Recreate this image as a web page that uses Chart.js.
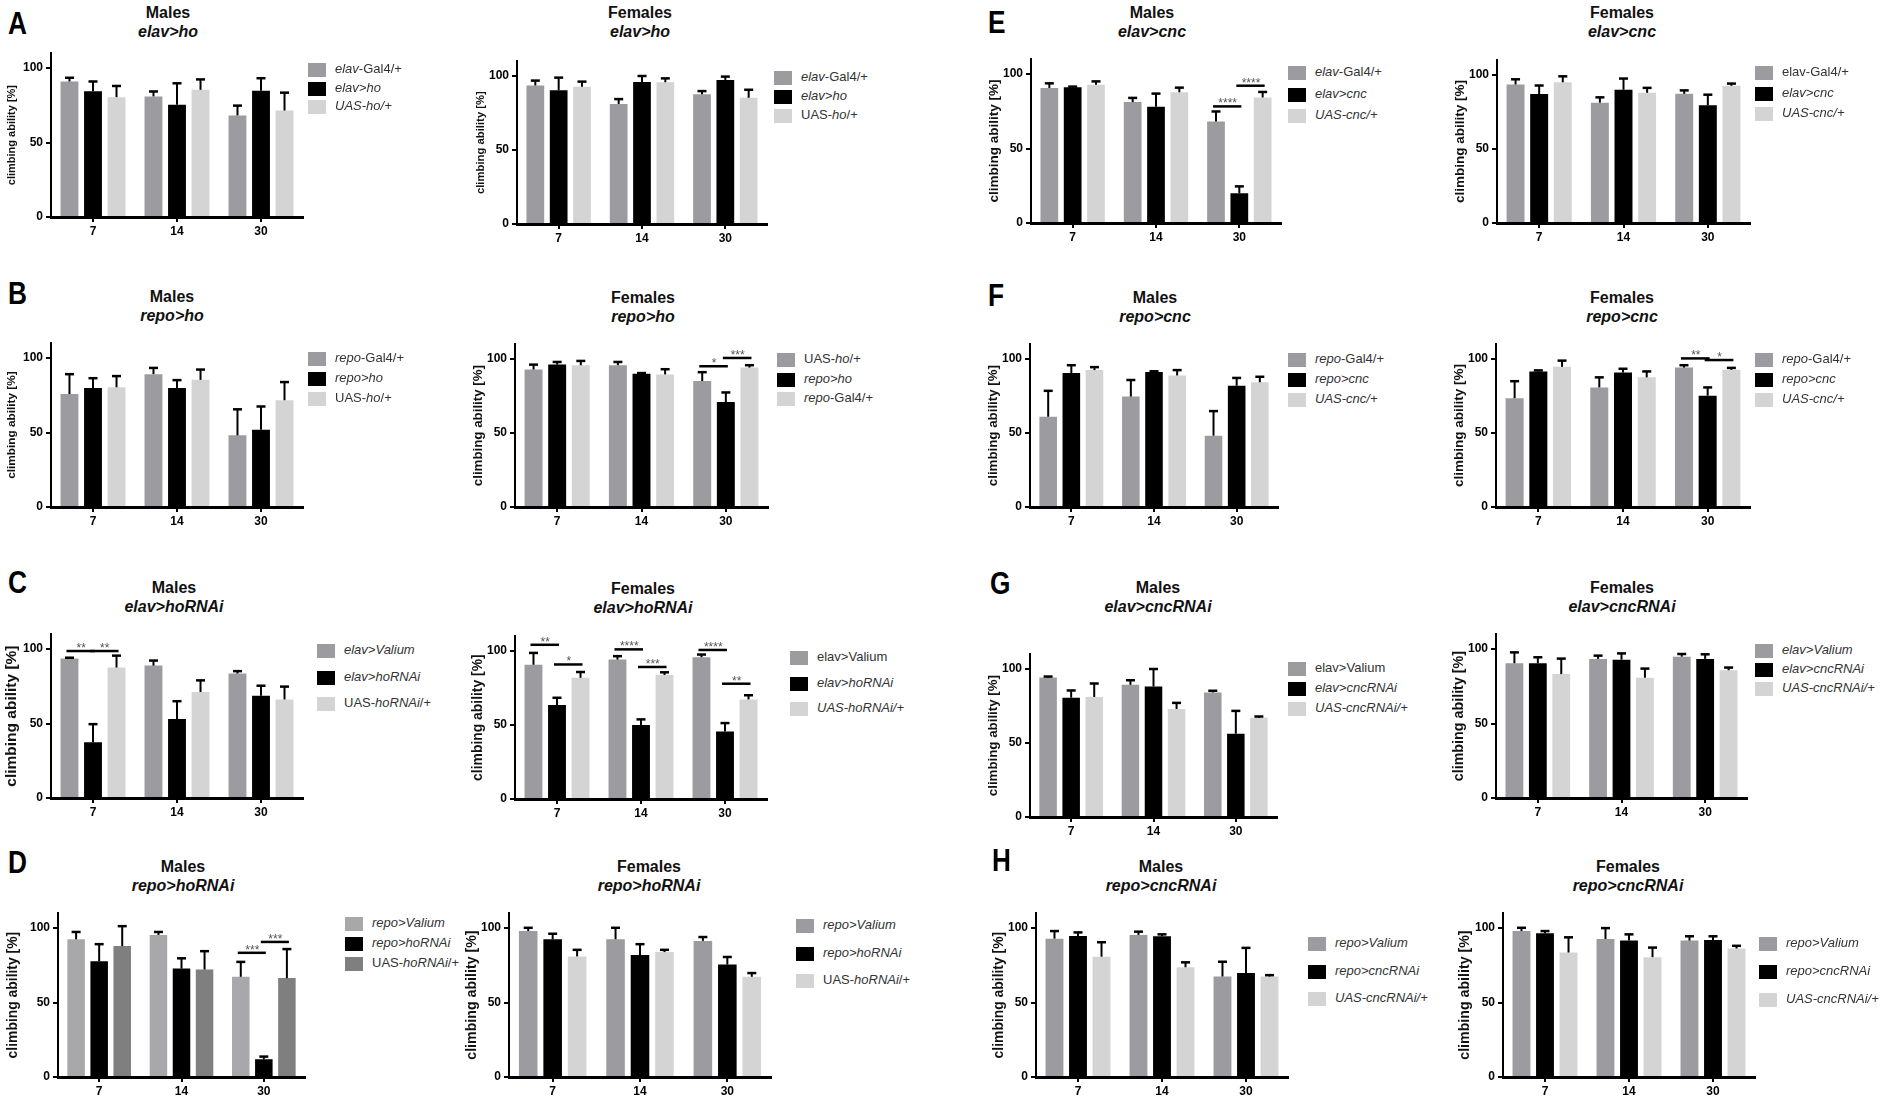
<!DOCTYPE html>
<html>
<head>
<meta charset="utf-8">
<script src="https://cdn.jsdelivr.net/npm/chart.js@4.4.1/dist/chart.umd.min.js"></script>
<style>
body { margin:0; background:#fff; width:1902px; height:1101px; position:relative; overflow:hidden; font-family:"Liberation Sans", Arial, sans-serif; }
.letter { position:absolute; font-weight:bold; font-size:32px; line-height:32px; transform:scaleX(0.82); transform-origin:left center; }
.ttl { position:absolute; width:240px; text-align:center; font-weight:bold; font-size:16px; line-height:19px; color:#111; }
.leg { position:absolute; font-size:13px; color:#333; white-space:nowrap; line-height:16px; }
.sw { display:inline-block; width:18px; height:14px; vertical-align:middle; margin-right:9px; }
canvas { position:absolute; }
</style>
</head>
<body>
<script>
const days = ['7', '14', '30'];

// mean climbing ability, one row per genotype, columns = days
const aMalesMean = [[91, 81, 68.2], [84.5, 75.3, 84.8], [80.5, 85.4, 71.5]];
const aMalesErr = [[2.5, 3.3, 6.6], [6.5, 14.5, 8.4], [7.5, 7, 12]];
const aMalesLabels = ['<i>elav</i>-Gal4/+', '<i>elav>ho</i>', '<i>UAS-ho/+</i>'];

const aFemalesMean = [[93.6, 81.1, 87.6], [90.4, 96, 97.3], [92.7, 95.8, 85.3]];
const aFemalesErr = [[3.3, 3.3, 2.2], [8.5, 4, 2.3], [3.5, 2.6, 5.4]];
const aFemalesLabels = ['<i>elav</i>-Gal4/+', '<i>elav>ho</i>', 'UAS-<i>ho</i>/+'];

const eMalesMean = [[90.7, 81.2, 68.1], [91.1, 78, 20], [92.9, 87.8, 84.3]];
const eMalesErr = [[3.1, 2.8, 6.8], [0.5, 8.9, 4.6], [2.2, 3.1, 3.7]];
const eMalesLabels = ['<i>elav</i>-Gal4/+', '<i>elav>cnc</i>', '<i>UAS-cnc/+</i>'];

const eFemalesMean = [[93.6, 81.3, 87.3], [87.1, 90, 79.6], [95.1, 88, 92.7]];
const eFemalesErr = [[3.5, 3.6, 2.3], [5.8, 7.6, 7.1], [4, 3.3, 1.5]];
const eFemalesLabels = ['elav-Gal4/+', '<i>elav>cnc</i>', '<i>UAS-cnc/+</i>'];

const bMalesMean = [[75.9, 89.2, 48.1], [79.9, 79.9, 51.9], [80.4, 85.4, 71.7]];
const bMalesErr = [[13.3, 4.2, 17.5], [6.6, 5.3, 15.6], [7.5, 6.9, 12.2]];
const bMalesLabels = ['<i>repo</i>-Gal4/+', '<i>repo>ho</i>', 'UAS-<i>ho</i>/+'];

const bFemalesMean = [[92.9, 95.8, 85.1], [96.2, 90, 70.9], [95.8, 89.6, 94.2]];
const bFemalesErr = [[3.3, 2.2, 6], [1.8, 0.5, 6.5], [2.9, 3.5, 1.6]];
const bFemalesLabels = ['UAS-<i>ho</i>/+', '<i>repo>ho</i>', '<i>repo</i>-Gal4/+'];

const fMalesMean = [[61, 74.6, 48.2], [90.5, 91.2, 81.9], [92.5, 88.9, 84.3]];
const fMalesErr = [[17.5, 11.2, 16.6], [5.3, 0.5, 5.3], [2, 3.6, 3.7]];
const fMalesLabels = ['<i>repo</i>-Gal4/+', '<i>repo>cnc</i>', '<i>UAS-cnc/+</i>'];

const fFemalesMean = [[73.5, 80.8, 94.2], [91.6, 90.9, 75.2], [94.7, 87.6, 92.7]];
const fFemalesErr = [[11.5, 6.8, 1.6], [0.7, 2.5, 5.6], [4.2, 4, 1.3]];
const fFemalesLabels = ['<i>repo</i>-Gal4/+', '<i>repo>cnc</i>', '<i>UAS-cnc/+</i>'];

const cMalesMean = [[93.6, 88.9, 83.6], [37.4, 53.1, 68.6], [87.6, 71.2, 66.2]];
const cMalesErr = [[0.6, 3.4, 1.6], [12.2, 11.9, 6.8], [8, 7.8, 8.6]];
const cMalesLabels = ['<i>elav>Valium</i>', '<i>elav>hoRNAi</i>', 'UAS-<i>hoRNAi</i>/+'];

const cFemalesMean = [[90.7, 94.2, 95.8], [63.5, 50, 45.6], [81.9, 83.8, 67.3]];
const cFemalesErr = [[8, 2.3, 1.8], [4.9, 3.8, 5.7], [3.9, 1.8, 2.8]];
const cFemalesLabels = ['elav>Valium', '<i>elav>hoRNAi</i>', '<i>UAS-hoRNAi/+</i>'];

const gMalesMean = [[94.2, 89.3, 84.2], [80.6, 88.2, 56.3], [81.1, 73, 67]];
const gMalesErr = [[0.7, 3.1, 1.1], [4.9, 11.8, 15.4], [9.1, 4.1, 0.9]];
const gMalesLabels = ['elav>Valium', '<i>elav>cncRNAi</i>', '<i>UAS-cncRNAi/+</i>'];

const gFemalesMean = [[90.5, 93.4, 94.9], [90.5, 92.9, 93.4], [83.2, 80.8, 85.8]];
const gFemalesErr = [[7.3, 2.2, 1.8], [4, 4.2, 3.1], [10.4, 6.1, 1.8]];
const gFemalesLabels = ['<i>elav>Valium</i>', '<i>elav>cncRNAi</i>', '<i>UAS-cncRNAi/+</i>'];

const dMalesMean = [[92.5, 95.4, 67.3], [77.7, 72.8, 11.9], [87.9, 72.2, 66.4]];
const dMalesErr = [[4.9, 2, 10], [11.5, 6.9, 1.8], [13.4, 12.3, 19.5]];
const dMalesLabels = ['<i>repo>Valium</i>', '<i>repo>hoRNAi</i>', 'UAS-<i>hoRNAi</i>/+'];

const dFemalesMean = [[98, 92.5, 91.4], [92.5, 81.9, 75.5], [81, 83.9, 67.3]];
const dFemalesErr = [[2.2, 7.7, 2.6], [3.7, 7.3, 5.1], [4.4, 1.5, 2.5]];
const dFemalesLabels = ['<i>repo>Valium</i>', '<i>repo>hoRNAi</i>', 'UAS-<i>hoRNAi</i>/+'];

const hMalesMean = [[92.9, 95.4, 67.5], [94.7, 94.5, 69.9], [80.8, 73.7, 67.5]];
const hMalesErr = [[5.1, 2.2, 9.9], [2.4, 1.3, 16.8], [9.7, 3.3, 0.9]];
const hMalesLabels = ['<i>repo>Valium</i>', '<i>repo>cncRNAi</i>', '<i>UAS-cncRNAi/+</i>'];

const hFemalesMean = [[98, 92.7, 91.6], [96.5, 91.6, 92], [83.6, 80.5, 86.3]];
const hFemalesErr = [[2.2, 7.3, 2.9], [1.5, 4.2, 2.5], [10.2, 6.4, 1.8]];
const hFemalesLabels = ['<i>repo>Valium</i>', '<i>repo>cncRNAi</i>', '<i>UAS-cncRNAi/+</i>'];

// significance bars: [day index, from genotype, to genotype, height, stars]
const eMalesSig = [[2, 0, 1, 78.3, '****'], [2, 1, 2, 92.2, '****']];
const bFemalesSig = [[2, 0, 1, 95.1, '*'], [2, 1, 2, 100.7, '***']];
const fFemalesSig = [[2, 0, 1, 100.4, '**'], [2, 1, 2, 99.3, '*']];
const cMalesSig = [[0, 0, 1, 98.7, '**'], [0, 1, 2, 98.7, '**']];
const cFemalesSig = [[0, 0, 1, 104.2, '**'], [0, 1, 2, 90.9, '*'], [1, 0, 1, 101.1, '****'], [1, 1, 2, 89.2, '***'], [2, 0, 1, 100.7, '****'], [2, 1, 2, 77.9, '**']];
const dMalesSig = [[2, 0, 1, 83.4, '***'], [2, 1, 2, 90.7, '***']];

const stdColors = ['#9c9ca0', '#000000', '#d4d4d4'];
const dMaleColors = ['#a8a8aa', '#000000', '#7f7f7f'];

Chart.defaults.font.family = '"Liberation Sans", Arial, sans-serif';

// box: y-axis x, x-axis end, y of 0, y of 100 ; title: centre x, top line y ; leg: swatch x, first y, step ; yl: label size, label offset
const panels = [
  {sex: 'Males', geno: 'elav>ho', mean: aMalesMean, err: aMalesErr, labels: aMalesLabels, sig: [], colors: stdColors, box: [51, 303, 217, 66], title: [168, 13], leg: [308, 69, 18.5], yl: [11, 39]},
  {sex: 'Females', geno: 'elav>ho', mean: aFemalesMean, err: aFemalesErr, labels: aFemalesLabels, sig: [], colors: stdColors, box: [517, 767, 224, 74], title: [640, 13], leg: [774, 77, 19], yl: [11.3, 36]},
  {sex: 'Males', geno: 'elav>cnc', mean: eMalesMean, err: eMalesErr, labels: eMalesLabels, sig: eMalesSig, colors: stdColors, box: [1031, 1281, 223, 72], title: [1152, 13], leg: [1288, 72, 21.5], yl: [13.5, 37]},
  {sex: 'Females', geno: 'elav>cnc', mean: eFemalesMean, err: eFemalesErr, labels: eFemalesLabels, sig: [], colors: stdColors, box: [1497, 1750, 223, 73], title: [1622, 13], leg: [1755, 72, 20.5], yl: [13.5, 37]},
  {sex: 'Males', geno: 'repo>ho', mean: bMalesMean, err: bMalesErr, labels: bMalesLabels, sig: [], colors: stdColors, box: [51, 303, 507, 356], title: [172, 297], leg: [308, 358, 20], yl: [11.8, 39]},
  {sex: 'Females', geno: 'repo>ho', mean: bFemalesMean, err: bFemalesErr, labels: bFemalesLabels, sig: bFemalesSig, colors: stdColors, box: [515, 768, 507, 357], title: [643, 298], leg: [777, 359, 19.5], yl: [13.3, 37]},
  {sex: 'Males', geno: 'repo>cnc', mean: fMalesMean, err: fMalesErr, labels: fMalesLabels, sig: [], colors: stdColors, box: [1030, 1278, 507, 357], title: [1155, 298], leg: [1288, 359, 20], yl: [13.3, 37]},
  {sex: 'Females', geno: 'repo>cnc', mean: fFemalesMean, err: fFemalesErr, labels: fFemalesLabels, sig: fFemalesSig, colors: stdColors, box: [1496, 1750, 507, 357], title: [1622, 298], leg: [1755, 359, 20], yl: [13.5, 37]},
  {sex: 'Males', geno: 'elav>hoRNAi', mean: cMalesMean, err: cMalesErr, labels: cMalesLabels, sig: cMalesSig, colors: stdColors, box: [51, 303, 798, 647], title: [174, 588], leg: [317, 650, 26.5], yl: [15.5, 39]},
  {sex: 'Females', geno: 'elav>hoRNAi', mean: cFemalesMean, err: cFemalesErr, labels: cFemalesLabels, sig: cFemalesSig, colors: stdColors, box: [515, 767, 799, 649], title: [643, 589], leg: [790, 657, 25.5], yl: [13.9, 37]},
  {sex: 'Males', geno: 'elav>cncRNAi', mean: gMalesMean, err: gMalesErr, labels: gMalesLabels, sig: [], colors: stdColors, box: [1030, 1277, 817, 667], title: [1158, 588], leg: [1288, 668, 20], yl: [13.3, 37]},
  {sex: 'Females', geno: 'elav>cncRNAi', mean: gFemalesMean, err: gFemalesErr, labels: gFemalesLabels, sig: [], colors: stdColors, box: [1496, 1747, 798, 647], title: [1622, 588], leg: [1755, 650, 19], yl: [14.3, 37]},
  {sex: 'Males', geno: 'repo>hoRNAi', mean: dMalesMean, err: dMalesErr, labels: dMalesLabels, sig: dMalesSig, colors: dMaleColors, box: [58, 305, 1077, 926], title: [183, 867], leg: [345, 923, 20], yl: [13.9, 45]},
  {sex: 'Females', geno: 'repo>hoRNAi', mean: dFemalesMean, err: dFemalesErr, labels: dFemalesLabels, sig: [], colors: stdColors, box: [509, 771, 1077, 926], title: [649, 867], leg: [796, 925, 27.5], yl: [14.2, 37]},
  {sex: 'Males', geno: 'repo>cncRNAi', mean: hMalesMean, err: hMalesErr, labels: hMalesLabels, sig: [], colors: stdColors, box: [1036, 1288, 1077, 926], title: [1161, 867], leg: [1308, 943, 27.5], yl: [13.9, 37]},
  {sex: 'Females', geno: 'repo>cncRNAi', mean: hFemalesMean, err: hFemalesErr, labels: hFemalesLabels, sig: [], colors: stdColors, box: [1503, 1755, 1077, 926], title: [1628, 867], leg: [1759, 943, 28], yl: [14.2, 38]}
];

const letters = [['A', 8, 23], ['B', 8, 293], ['C', 8, 582], ['D', 8, 862], ['E', 988, 22], ['F', 988, 295], ['G', 990, 583], ['H', 992, 860]];

// SEM bars, upper half only
const errorBars = {
  id: 'errorBars',
  afterDatasetsDraw(chart) {
    const ctx = chart.ctx;
    const y = chart.scales.y;
    chart.data.datasets.forEach((ds, i) => {
      chart.getDatasetMeta(i).data.forEach((bar, j) => {
        const top = y.getPixelForValue(ds.data[j] + ds.err[j]);
        const half = 4.5;
        ctx.save();
        ctx.strokeStyle = '#000';
        ctx.lineWidth = 2;
        ctx.beginPath();
        ctx.moveTo(bar.x, bar.y);
        ctx.lineTo(bar.x, top);
        ctx.stroke();
        ctx.lineWidth = 2.5;
        ctx.beginPath();
        ctx.moveTo(bar.x - half, top);
        ctx.lineTo(bar.x + half, top);
        ctx.stroke();
        ctx.restore();
      });
    });
  }
};

function sigMarks(items) {
  return {
    id: 'sigMarks',
    afterDatasetsDraw(chart) {
      const ctx = chart.ctx;
      const y = chart.scales.y;
      items.forEach(([cat, a, b, val, stars]) => {
        const ba = chart.getDatasetMeta(a).data[cat];
        const bb = chart.getDatasetMeta(b).data[cat];
        const py = y.getPixelForValue(val);
        ctx.save();
        ctx.strokeStyle = '#000';
        ctx.lineWidth = 2.5;
        ctx.beginPath();
        ctx.moveTo(ba.x - 3, py);
        ctx.lineTo(bb.x + 2, py);
        ctx.stroke();
        ctx.fillStyle = '#555';
        ctx.font = '12px "Liberation Sans", Arial, sans-serif';
        ctx.textAlign = 'center';
        ctx.textBaseline = 'alphabetic';
        ctx.fillText(stars, (ba.x + bb.x) / 2, py + 1);
        ctx.restore();
      });
    }
  };
}

function addDiv(cls, html, css) {
  const d = document.createElement('div');
  d.className = cls;
  d.innerHTML = html;
  d.style.cssText = css;
  document.body.appendChild(d);
  return d;
}

function makePanel(p) {
  const [ax, ex, zy, hy] = p.box;
  const unit = (zy - hy) / 100;
  const topY = zy - 110 * unit;
  const YW = 56, PT = 8, PR = 6, XH = 26;
  const w = Math.round(YW + (ex - ax) + PR);
  const h = Math.round(PT + (zy - topY) + XH);

  const c = document.createElement('canvas');
  c.width = w;
  c.height = h;
  c.style.left = (ax - YW) + 'px';
  c.style.top = Math.round(topY - PT) + 'px';
  c.style.width = w + 'px';
  c.style.height = h + 'px';
  document.body.appendChild(c);

  const [ylSize, ylOff] = p.yl;
  const ylPad = Math.max(0, YW - ylOff - ylSize * 0.6);

  new Chart(c, {
    type: 'bar',
    data: {
      labels: days,
      datasets: p.mean.map((m, i) => ({
        label: p.labels[i].replace(/<[^>]+>/g, ''),
        data: m,
        err: p.err[i],
        backgroundColor: p.colors[i],
        categoryPercentage: 0.84,
        barPercentage: 0.76
      }))
    },
    options: {
      responsive: false,
      animation: false,
      layout: {padding: {top: PT, right: PR, left: 0, bottom: 0}},
      plugins: {legend: {display: false}, tooltip: {enabled: false}},
      scales: {
        x: {
          grid: {display: true, drawOnChartArea: false, offset: false, tickLength: 5, color: '#000', lineWidth: 2},
          border: {color: '#000', width: 3},
          ticks: {color: '#000', font: {size: 12, weight: 'bold'}, padding: 2},
          afterFit: (a) => { a.height = XH; }
        },
        y: {
          min: 0,
          max: 110,
          ticks: {stepSize: 50, color: '#000', font: {size: 12, weight: 'bold'}, padding: 3},
          afterBuildTicks: (a) => { a.ticks = a.ticks.filter(t => t.value % 50 === 0); },
          grid: {drawOnChartArea: false, tickLength: 5, color: '#000', lineWidth: 2},
          border: {color: '#000', width: 2},
          title: {display: true, text: 'climbing ability [%]', color: '#111', font: {size: ylSize, weight: 'bold'}, padding: {top: ylPad, bottom: 0}},
          afterFit: (a) => { a.width = YW; }
        }
      }
    },
    plugins: [errorBars, sigMarks(p.sig)]
  });

  // titles
  addDiv('ttl', p.sex + '<br><i>' + p.geno + '</i>', `left:${p.title[0] - 120}px;top:${p.title[1] - 10}px`);

  // legend
  const [lx, ly, step] = p.leg;
  p.labels.forEach((lab, i) => {
    addDiv('leg', `<span class="sw" style="background:${p.colors[i]}"></span>${lab}`,
      `left:${lx}px;top:${Math.round(ly + i * step - 8)}px`);
  });
}

panels.forEach(makePanel);
letters.forEach(([t, x, y]) => addDiv('letter', t, `left:${x}px;top:${y - 16}px`));
</script>
</body>
</html>
